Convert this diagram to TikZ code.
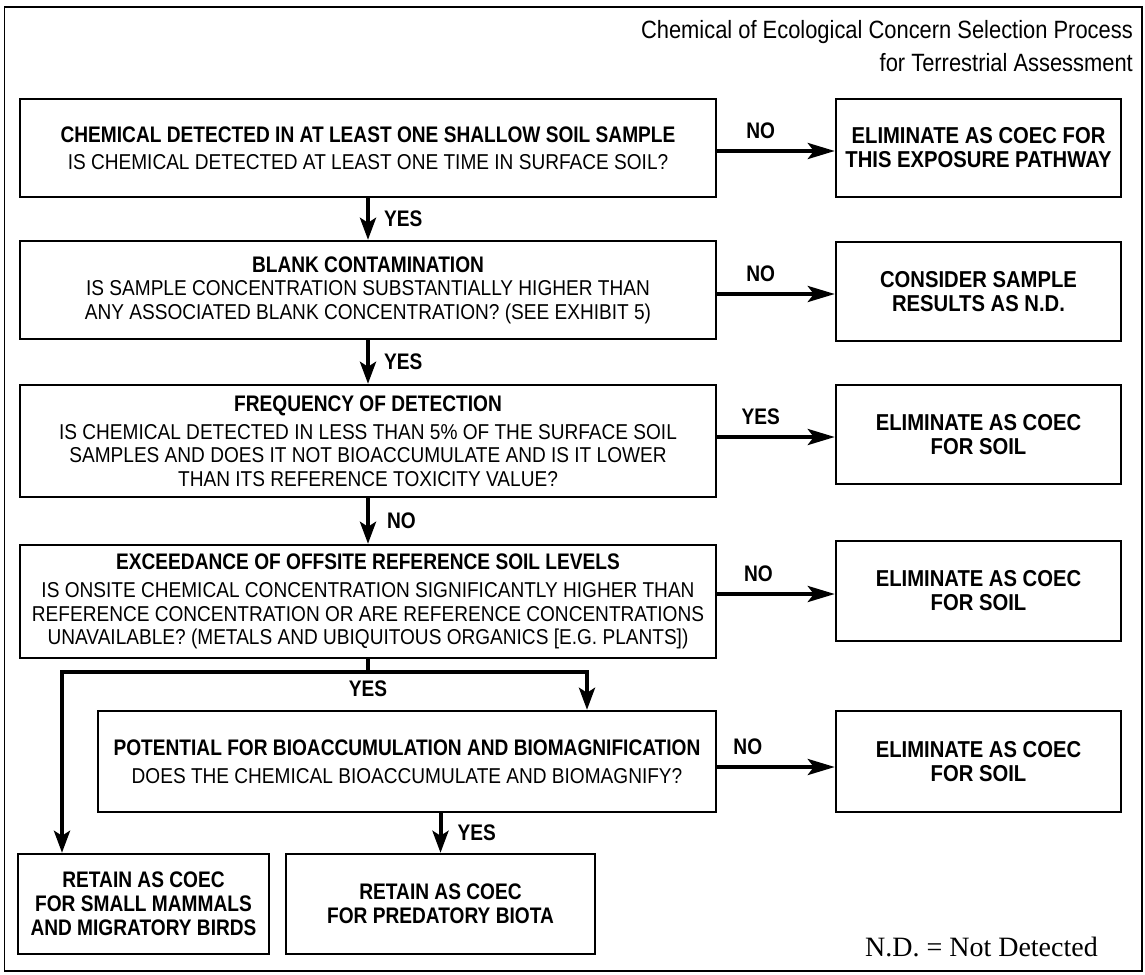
\documentclass[tikz,border=0pt]{standalone}
\usepackage{fontspec}
\setmainfont{Liberation Sans}
\newfontfamily\bodyface[FakeStretch=0.887]{Liberation Sans}
\newfontfamily\headface[FakeStretch=0.85]{Liberation Sans}
\newfontfamily\outface[FakeStretch=0.88]{Liberation Sans}
\newfontfamily\titleface[FakeStretch=0.876]{Liberation Sans}
\newfontfamily\noteface{Liberation Serif}
\usetikzlibrary{arrows.meta}

\newcommand{\bd}{\bodyface\fontsize{21.5}{23.5}\selectfont}
\newcommand{\hd}{\headface\bfseries\fontsize{22.5}{24}\selectfont}
\newcommand{\od}{\outface\bfseries\fontsize{23}{24}\selectfont}
\newcommand{\ttl}{\titleface\fontsize{25}{33}\selectfont}

\tikzset{
  box/.style={draw, line width=2.4pt, inner sep=0pt, align=center, font=\bd},
  qbox/.style={box, minimum width=696pt},
  rbox/.style={box, minimum width=285pt, minimum height=99pt, font=\od},
  harrow/.style={line width=4pt, -{Stealth[length=27pt,width=16pt,inset=6pt]}},
  varrow/.style={line width=4pt, -{Stealth[length=22pt,width=16pt,inset=5pt]}},
  lbl/.style={font=\hd, inner sep=0pt},
}

\begin{document}
\begin{tikzpicture}[x=1pt,y=-1pt]
\useasboundingbox (0,0) rectangle (1145,974);
\fill[white] (0,0) rectangle (1145,974);
\draw[line width=1.5pt] (4.5,7) rectangle (1142,971);

% title
\node[font=\ttl, align=right, anchor=east, inner sep=0pt] (title) at (1133,46)
  {Chemical of Ecological Concern Selection Process\\for Terrestrial Assessment};

% question boxes
\node[qbox, minimum height=98pt] (q1) at (368,148)
  {{\hd CHEMICAL DETECTED IN AT LEAST ONE SHALLOW SOIL SAMPLE}\\[3pt]
   IS CHEMICAL DETECTED AT LEAST ONE TIME IN SURFACE SOIL?};
\node[qbox, minimum height=98pt] (q2) at (368,290)
  {{\hd BLANK CONTAMINATION}\\
   IS SAMPLE CONCENTRATION SUBSTANTIALLY HIGHER THAN\\
   ANY ASSOCIATED BLANK CONCENTRATION? (SEE EXHIBIT 5)};
\node[qbox, minimum height=112pt] (q3) at (368,441)
  {{\hd FREQUENCY OF DETECTION}\\[4pt]
   IS CHEMICAL DETECTED IN LESS THAN 5\% OF THE SURFACE SOIL\\
   SAMPLES AND DOES IT NOT BIOACCUMULATE AND IS IT LOWER\\
   THAN ITS REFERENCE TOXICITY VALUE?};
\node[qbox, minimum height=113pt] (q4) at (368,601.5)
  {{\hd EXCEEDANCE OF OFFSITE REFERENCE SOIL LEVELS}\\[5pt]
   IS ONSITE CHEMICAL CONCENTRATION SIGNIFICANTLY HIGHER THAN\\
   REFERENCE CONCENTRATION OR ARE REFERENCE CONCENTRATIONS\\
   UNAVAILABLE? (METALS AND UBIQUITOUS ORGANICS [E.G. PLANTS])};
\node[box, minimum width=618pt, minimum height=101pt] (q5) at (407,761.5)
  {{\hd POTENTIAL FOR BIOACCUMULATION AND BIOMAGNIFICATION}\\[5pt]
   DOES THE CHEMICAL BIOACCUMULATE AND BIOMAGNIFY?};

% outcome boxes
\node[rbox, minimum height=98pt] (r1) at (978.5,148) {ELIMINATE AS COEC FOR\\THIS EXPOSURE PATHWAY};
\node[rbox] (r2) at (978.5,291.5) {CONSIDER SAMPLE\\RESULTS AS N.D.};
\node[rbox] (r3) at (978.5,434.5) {ELIMINATE AS COEC\\FOR SOIL};
\node[rbox, minimum height=100pt] (r4) at (978.5,591) {ELIMINATE AS COEC\\FOR SOIL};
\node[rbox, minimum height=101pt] (r5) at (978.5,761.5) {ELIMINATE AS COEC\\FOR SOIL};
\node[box, font=\hd, minimum width=251pt, minimum height=100pt] (b1) at (143.5,904)
  {RETAIN AS COEC\\FOR SMALL MAMMALS\\AND MIGRATORY BIRDS};
\node[box, font=\hd, minimum width=309pt, minimum height=100pt] (b2) at (440.5,904)
  {RETAIN AS COEC\\FOR PREDATORY BIOTA};

% note
\node[font=\noteface\fontsize{28}{32}\selectfont, inner sep=0pt, anchor=east] (note) at (1098,947) {N.D. = Not Detected};

% vertical flow
\draw[varrow] (q1.south) -- (q2.north) node[lbl, midway, anchor=west, xshift=14pt] {YES};
\draw[varrow] (q2.south) -- (q3.north) node[lbl, midway, anchor=west, xshift=14pt] {YES};
\draw[varrow] (q3.south) -- (q4.north) node[lbl, midway, anchor=west, xshift=17pt] {NO};

% exits to the right
\coordinate (e1) at ([yshift=-3pt]q1.east);
\coordinate (e2) at ([yshift=-4pt]q2.east);
\coordinate (e3) at ([yshift=4pt]q3.east);
\coordinate (e4) at ([yshift=7.5pt]q4.east);
\coordinate (e5) at ([yshift=-5.5pt]q5.east);
\draw[harrow] (e1) -- (e1 -| r1.west) node[lbl, pos=0.37, above=10pt] {NO};
\draw[harrow] (e2) -- (e2 -| r2.west) node[lbl, pos=0.37, above=10pt] {NO};
\draw[harrow] (e3) -- (e3 -| r3.west) node[lbl, pos=0.37, above=10pt] {YES};
\draw[harrow] (e4) -- (e4 -| r4.west) node[lbl, pos=0.35, above=10pt] {NO};
\draw[harrow] (e5) -- (e5 -| r5.west) node[lbl, pos=0.26, above=10pt] {NO};

% split below the exceedance test
\coordinate (split) at (368,672);
\coordinate (lft) at (62,672);
\coordinate (rgt) at (587,672);
\draw[line width=4pt] (q4.south) -- (split);
\draw[varrow] (split) -- (lft) -- (lft |- b1.north);
\draw[varrow] (split) -- (rgt) -- (rgt |- q5.north);
\node[lbl, below=9pt] (yesplit) at (split) {YES};

% predatory biota
\coordinate (p5) at (b2.north |- q5.south);
\draw[varrow] (p5) -- (b2.north) node[lbl, midway, anchor=west, xshift=15pt] {YES};
\end{tikzpicture}
\end{document}
